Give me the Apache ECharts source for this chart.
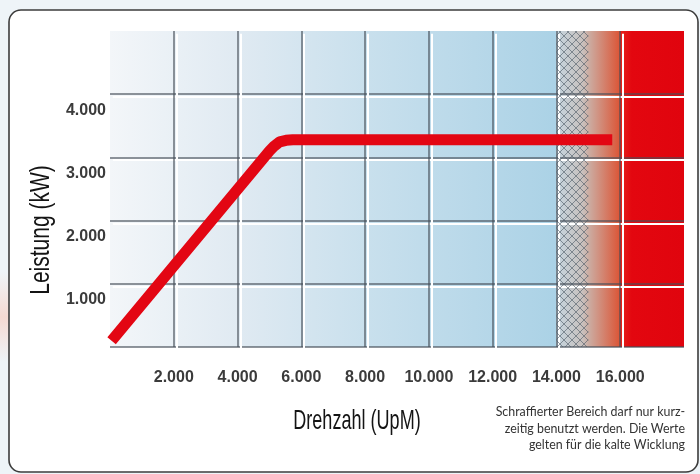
<!DOCTYPE html>
<html><head><meta charset="utf-8">
<script src="https://cdn.jsdelivr.net/npm/echarts@6/dist/echarts.min.js"></script>
<style>html,body{margin:0;padding:0;background:#eef4f8}#c{width:700px;height:474px}</style>
</head><body><div id="c"></div>
<script>
// ---- data ----
const xTickValues = [2000, 4000, 6000, 8000, 10000, 12000, 14000, 16000];
const xTickLabels = ['2.000', '4.000', '6.000', '8.000', '10.000', '12.000', '14.000', '16.000'];
const yTickValues = [1000, 2000, 3000, 4000];
const yTickLabels = ['1.000', '2.000', '3.000', '4.000'];
const speedRpm = [50, 5000, 5150, 5320, 5520, 5730, 15750];
const powerKw = [100, 3100, 3180, 3245, 3270, 3280, 3280];
const hatchRange = [14000, 15000];
const warnRange = [15000, 16000];
const redRange = [16000, 18000];
const xRange = [0, 18000];
const yRange = [0, 5000];
const xTitle = 'Drehzahl (UpM)';
const yTitle = 'Leistung (kW)';
const footnote = ['Schraffierter Bereich darf nur kurz-', 'zeitig benutzt werden. Die Werte', 'gelten für die kalte Wicklung'];

// ---- styling ----
const TICKFONT = '"Liberation Sans", Arial, sans-serif';
const TITLEFONT = '"Liberation Sans", Arial, sans-serif';
const f = v => (v - xRange[0]) / (xRange[1] - xRange[0]);
const bgGrad = new echarts.graphic.LinearGradient(0, 0, 1, 0, [
  { offset: 0, color: '#f3f6f9' },
  { offset: f(4000), color: '#e0eaf2' },
  { offset: f(8000), color: '#c9e0ed' },
  { offset: f(hatchRange[0]), color: '#abd2e6' },
  { offset: f(hatchRange[0]), color: '#c4d5df' },
  { offset: f(hatchRange[1]) - 0.01, color: '#c8c0bd' },
  { offset: f(hatchRange[1]), color: '#cbaea4' },
  { offset: f(warnRange[1]), color: '#dc5435' },
  { offset: f(redRange[0]), color: '#e6241b' },
  { offset: f(redRange[0]) + 0.02, color: '#e3070f' },
  { offset: 1, color: '#e0040e' }
]);

const pc = document.createElement('canvas');
pc.width = 8; pc.height = 8;
const g = pc.getContext('2d');
g.strokeStyle = 'rgba(75,88,100,0.6)';
g.lineWidth = 1;
g.beginPath();
g.moveTo(-2, -2); g.lineTo(10, 10);
g.moveTo(10, -2); g.lineTo(-2, 10);
g.stroke();

const fmt = (vals, labels) => v => { const i = vals.indexOf(v); return i >= 0 ? labels[i] : ''; };
const tickFont = { fontFamily: TICKFONT, fontWeight: 'bold', fontSize: 16, color: '#3b3b3b' };

const chart = echarts.init(document.getElementById('c'), null, { renderer: 'canvas' });
chart.setOption({
  backgroundColor: '#eef4f8',
  animation: false,
  grid: [
    { left: 110, right: 16, top: 31, bottom: 127, show: true, backgroundColor: bgGrad, borderWidth: 0, z: 0 },
    { left: 112.8, right: 13.2, top: 33.8, bottom: 124.2, show: false }
  ],
  xAxis: [
    { type: 'value', gridIndex: 0, min: xRange[0], max: xRange[1], interval: 2000, z: 1,
      axisLine: { show: false }, axisTick: { show: false },
      splitLine: { show: true, showMinLine: false, showMaxLine: false, lineStyle: { color: 'rgba(70,78,88,0.6)', width: 2 } },
      axisLabel: Object.assign({ formatter: fmt(xTickValues, xTickLabels), margin: 23 }, tickFont) },
    { type: 'value', gridIndex: 1, min: xRange[0], max: xRange[1], interval: 2000, z: 1,
      axisLine: { show: false }, axisTick: { show: false }, axisLabel: { show: false },
      splitLine: { show: true, showMinLine: false, showMaxLine: false, lineStyle: { color: '#ffffff', width: 2 } } }
  ],
  yAxis: [
    { type: 'value', gridIndex: 0, min: yRange[0], max: yRange[1], interval: 1000, z: 1,
      axisLine: { show: false }, axisTick: { show: false },
      splitLine: { show: true, showMinLine: true, showMaxLine: false, lineStyle: { color: 'rgba(70,78,88,0.6)', width: 2 } },
      axisLabel: Object.assign({ formatter: fmt(yTickValues, yTickLabels), margin: 4, verticalAlign: 'top', padding: [8, 0, 0, 0] }, tickFont) },
    { type: 'value', gridIndex: 1, min: yRange[0], max: yRange[1], interval: 1000, z: 1,
      axisLine: { show: false }, axisTick: { show: false }, axisLabel: { show: false },
      splitLine: { show: true, showMinLine: false, showMaxLine: false, lineStyle: { color: '#ffffff', width: 2 } } }
  ],
  series: [{
    type: 'line', xAxisIndex: 0, yAxisIndex: 0, silent: true, z: 5,
    data: speedRpm.map((x, i) => [x, powerKw[i]]),
    showSymbol: false, symbol: 'none', smooth: false,
    lineStyle: { color: '#e30613', width: 11, cap: 'butt', join: 'round' },
    markArea: {
      silent: true, z: 2,
      itemStyle: { color: { image: pc, repeat: 'repeat' } },
      data: [[{ xAxis: hatchRange[0] }, { xAxis: hatchRange[1] }]]
    }
  }],
  graphic: [
    { type: 'rect', z: -10, shape: { x: 9, y: 10, width: 689, height: 462, r: 12 },
      style: { fill: '#ffffff', stroke: '#3c3c3c', lineWidth: 1.6 } },
    { type: 'rect', z: -11, shape: { x: 0, y: 272, width: 9, height: 90 },
      style: { fill: new echarts.graphic.LinearGradient(0, 0, 0, 1, [
        { offset: 0, color: 'rgba(250,200,185,0)' }, { offset: 0.5, color: 'rgba(250,200,185,0.6)' }, { offset: 1, color: 'rgba(250,200,185,0)' }]) } },
    { type: 'text', z: 10, x: 41, y: 230, rotation: Math.PI / 2, scaleX: 0.75,
      style: { text: yTitle, fontFamily: TITLEFONT, fontSize: 28, fill: '#141414', align: 'center', verticalAlign: 'middle' } },
    { type: 'text', z: 10, x: 357, y: 421, scaleX: 0.645,
      style: { text: xTitle, fontFamily: TITLEFONT, fontSize: 28, fill: '#141414', align: 'center', verticalAlign: 'middle' } },
    { type: 'text', z: 10, x: 685, y: 404,
      style: { text: footnote.join('\n'), fontFamily: 'Lato, sans-serif', fontSize: 12.4, lineHeight: 16.5, fill: '#333333', align: 'right', verticalAlign: 'top' } }
  ]
});
</script>
</body></html>
